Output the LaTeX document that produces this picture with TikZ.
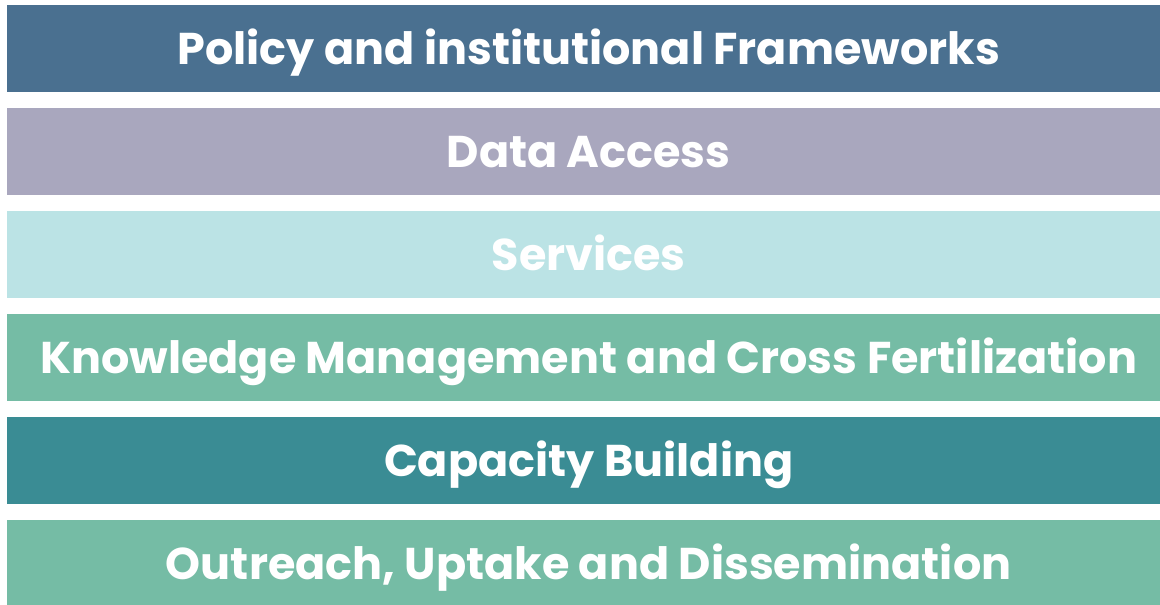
\documentclass[tikz,border=0pt]{standalone}
\usepackage{fontspec}
\setmainfont{Poppins}
\definecolor{cA}{HTML}{4A7090}
\definecolor{cB}{HTML}{A9A7BE}
\definecolor{cC}{HTML}{BBE3E5}
\definecolor{cD}{HTML}{75BCA5}
\definecolor{cE}{HTML}{3A8C94}
\begin{document}
\begin{tikzpicture}[x=1pt,y=-1pt,
  bar/.style={minimum width=1153pt,minimum height=87pt,inner sep=0pt,
    text height=31pt,text depth=0pt,
    text=white,font=\fontsize{44.5}{46}\selectfont\bfseries,anchor=north west},
]
\useasboundingbox (0,0) rectangle (1160,605);
\node[bar,fill=cA] (b1) at (7,5) {\hspace*{10pt}Policy and institutional Frameworks};
\node[bar,fill=cB] (b2) at (7,108) {\hspace*{10pt}Data Access};
\node[bar,fill=cC] (b3) at (7,211) {\hspace*{10pt}Services};
\node[bar,fill=cD] (b4) at (7,314) {\hspace*{10pt}Knowledge Management and Cross Fertilization};
\node[bar,fill=cE] (b5) at (7,417) {\hspace*{10pt}Capacity Building};
\node[bar,fill=cD] (b6) at (7,520) {\hspace*{10pt}Outreach, Uptake and Dissemination};
\end{tikzpicture}
\end{document}
